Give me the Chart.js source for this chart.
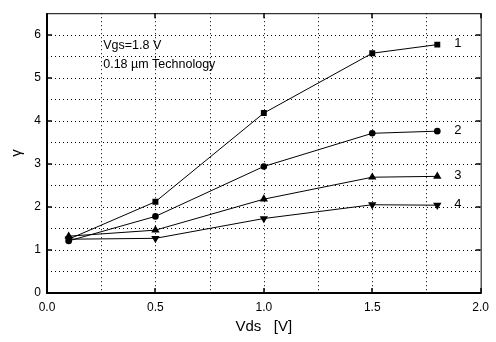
<!DOCTYPE html>
<html lang="en">
<head>
    <meta charset="UTF-8">
    <title>Gamma vs Vds</title>
    <script src="https://cdn.jsdelivr.net/npm/chart.js"></script>
    <style>
        body { margin: 0; background: #fff; }
        #wrap { width: 496px; height: 342px; }
    </style>
</head>
<body>
    <div id="wrap"><canvas id="chart" width="496" height="342"></canvas></div>
    <script>
        // Data
        const vds = [0.1, 0.5, 1.0, 1.5, 1.8];
        const curve1 = [1.25, 2.12, 4.18, 5.57, 5.77];
        const curve2 = [1.21, 1.78, 2.94, 3.71, 3.76];
        const curve3 = [1.32, 1.46, 2.18, 2.69, 2.71];
        const curve4 = [1.25, 1.27, 1.73, 2.05, 2.04];
        const curveNames = ['1', '2', '3', '4'];
        const markers = ['rect', 'circle', 'triangle', 'triangle'];
        const xTicks = [0.0, 0.5, 1.0, 1.5, 2.0];
        const yTicks = [0, 1, 2, 3, 4, 5, 6];
        const xGrid = [0.25, 0.5, 0.75, 1.0, 1.25, 1.5, 1.75];
        const yGrid = [0.5, 1, 1.5, 2, 2.5, 3, 3.5, 4, 4.5, 5, 5.5, 6];

        const FONT = '"Liberation Sans", Arial, sans-serif';

        const series = [curve1, curve2, curve3, curve4];
        const datasets = series.map((vals, i) => ({
            label: curveNames[i],
            data: vals.map((v, k) => ({ x: vds[k], y: v })),
            showLine: true,
            borderColor: '#000',
            backgroundColor: '#000',
            borderWidth: 1,
            pointStyle: markers[i],
            pointRotation: i === 3 ? 180 : 0,
            pointRadius: [4.2, 3.3, 4.8, 4.8][i],
            pointBorderWidth: 0,
            tension: 0
        }));

        // dotted grid behind the curves
        const dottedGrid = {
            id: 'dottedGrid',
            beforeDatasetsDraw(chart) {
                const ctx = chart.ctx;
                const a = chart.chartArea;
                const x = chart.scales.x, y = chart.scales.y;
                ctx.save();
                ctx.strokeStyle = '#000';
                ctx.lineWidth = 1;
                ctx.setLineDash([1, 3]);
                ctx.beginPath();
                xGrid.forEach(v => {
                    const px = Math.round(x.getPixelForValue(v)) + 0.5;
                    ctx.moveTo(px, a.top); ctx.lineTo(px, a.bottom);
                });
                yGrid.forEach(v => {
                    const py = Math.round(y.getPixelForValue(v)) + 0.5;
                    ctx.moveTo(a.left, py); ctx.lineTo(a.right, py);
                });
                ctx.stroke();
                ctx.restore();
            }
        };

        // frame, inward ticks, notes and curve labels
        const decorations = {
            id: 'decorations',
            afterDraw(chart) {
                const ctx = chart.ctx;
                const a = chart.chartArea;
                const x = chart.scales.x, y = chart.scales.y;
                ctx.save();
                ctx.strokeStyle = '#000';
                ctx.lineWidth = 1;
                ctx.beginPath();
                ctx.moveTo(a.left, a.top + 0.5);
                ctx.lineTo(a.right + 0.5, a.top + 0.5);
                ctx.lineTo(a.right + 0.5, a.bottom);
                ctx.stroke();
                ctx.lineWidth = 2;
                ctx.beginPath();
                ctx.moveTo(a.left, a.top);
                ctx.lineTo(a.left, a.bottom);
                ctx.lineTo(a.right + 1, a.bottom);
                ctx.stroke();

                ctx.lineWidth = 1.5;
                ctx.beginPath();
                xTicks.forEach(v => {
                    const px = Math.round(x.getPixelForValue(v));
                    ctx.moveTo(px, a.bottom); ctx.lineTo(px, a.bottom - 5);
                    ctx.moveTo(px, a.top); ctx.lineTo(px, a.top + 5);
                });
                yTicks.forEach(v => {
                    const py = Math.round(y.getPixelForValue(v));
                    ctx.moveTo(a.left, py); ctx.lineTo(a.left + 5, py);
                    ctx.moveTo(a.right, py); ctx.lineTo(a.right - 5, py);
                });
                ctx.stroke();

                ctx.fillStyle = '#000';
                ctx.font = '12.5px ' + FONT;
                ctx.textBaseline = 'middle';
                ctx.textAlign = 'left';
                ctx.fillText('Vgs=1.8 V', x.getPixelForValue(0.25) + 2, y.getPixelForValue(5.75));
                ctx.fillText('0.18 \u00b5m Technology', x.getPixelForValue(0.25) + 2, y.getPixelForValue(5.3));

                ctx.font = '13px ' + FONT;
                series.forEach((vals, i) => {
                    const last = vals[vals.length - 1];
                    ctx.fillText(curveNames[i], x.getPixelForValue(vds[vds.length - 1]) + 17,
                        y.getPixelForValue(last) - 1);
                });
                ctx.restore();
            }
        };

        new Chart(document.getElementById('chart'), {
            type: 'scatter',
            data: { datasets },
            options: {
                responsive: false,
                animation: false,
                layout: { padding: { top: 11, right: 13, left: 0, bottom: 0 } },
                plugins: { legend: { display: false }, tooltip: { enabled: false } },
                scales: {
                    x: {
                        type: 'linear',
                        min: 0, max: 2,
                        ticks: {
                            stepSize: 0.5,
                            autoSkip: false,
                            maxRotation: 0,
                            color: '#000',
                            font: { family: FONT, size: 12 },
                            padding: 7,
                            callback: v => v.toFixed(1)
                        },
                        grid: { display: false, drawTicks: false },
                        border: { display: false },
                        title: {
                            display: true,
                            text: 'Vds   [V]',
                            color: '#000',
                            font: { family: FONT, size: 15 },
                            padding: { top: 0, bottom: 6 }
                        },
                        afterFit: s => { s.height = 49; }
                    },
                    y: {
                        min: 0, max: 6.5,
                        ticks: {
                            stepSize: 1,
                            autoSkip: false,
                            color: '#000',
                            font: { family: FONT, size: 12 },
                            padding: 6,
                            callback: v => Number.isInteger(v) ? String(v) : ''
                        },
                        grid: { display: false, drawTicks: false },
                        border: { display: false },
                        title: {
                            display: true,
                            text: '\u03b3',
                            color: '#000',
                            font: { family: FONT, size: 15 },
                            padding: { top: 8, bottom: 0 }
                        },
                        afterFit: s => { s.width = 47; }
                    }
                }
            },
            plugins: [dottedGrid, decorations]
        });
    </script>
</body>
</html>
